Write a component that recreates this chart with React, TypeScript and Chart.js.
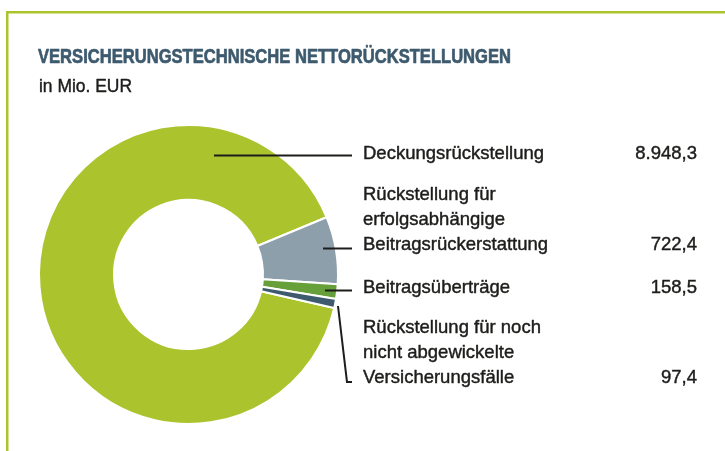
import React, { useEffect, useRef } from "react";
import { Chart, registerables } from "chart.js";

Chart.register(...registerables);

const TITLE = "VERSICHERUNGSTECHNISCHE NETTORÜCKSTELLUNGEN";
const SUBTITLE = "in Mio. EUR";

// categories (legend order), each as its printed lines
const categories: string[][] = [
  ["Deckungsrückstellung"],
  ["Rückstellung für", "erfolgsabhängige", "Beitragsrückerstattung"],
  ["Beitragsüberträge"],
  ["Rückstellung für noch", "nicht abgewickelte", "Versicherungsfälle"],
];
const values: number[] = [8948.3, 722.4, 158.5, 97.4];
const valueLabels: string[] = ["8.948,3", "722,4", "158,5", "97,4"];

// styles / layout (kept apart from the data)
const sliceColors = ["#abc42e", "#8e9fac", "#67a03a", "#3d5a6e"];
const frameColor = "#abc42e";
const titleColor = "#3d5a6e";
const textColor = "#1d1d1b";
const FONT_FAMILY = '"Liberation Sans Narrow", "Liberation Sans", Arial, sans-serif';

// label text baselines (last line) and leader line paths
const labelLayout = [
  { baseline: 159, path: [[214, 155.5], [352, 155.5]] },
  { baseline: 250, path: [[323, 248.5], [352, 248.5]] },
  { baseline: 292.5, path: [[325, 290.5], [352, 290.5]] },
  { baseline: 383, path: [[338, 306], [347, 382], [352, 382]] },
];

function fitText(
  ctx: CanvasRenderingContext2D,
  text: string,
  x: number,
  y: number,
  font: string,
  color: string,
  scale: number,
  align: CanvasTextAlign,
  weight: number
) {
  ctx.save();
  ctx.font = font;
  ctx.fillStyle = color;
  ctx.strokeStyle = color;
  ctx.textBaseline = "alphabetic";
  ctx.textAlign = align;
  ctx.translate(x, y);
  ctx.scale(scale, 1);
  ctx.fillText(text, 0, 0);
  if (weight > 0) {
    ctx.lineWidth = weight;
    ctx.lineJoin = "round";
    ctx.strokeText(text, 0, 0);
  }
  ctx.restore();
}

const overlayPlugin = {
  id: "overlay",
  beforeDraw(chart: any) {
    const ctx: CanvasRenderingContext2D = chart.ctx;
    ctx.save();
    ctx.fillStyle = "#ffffff";
    ctx.fillRect(0, 0, chart.width, chart.height);
    ctx.strokeStyle = frameColor;
    ctx.lineWidth = 2.5;
    ctx.strokeRect(7.25, 12.25, chart.width + 50, chart.height + 50);
    ctx.restore();
  },
  afterDraw(chart: any) {
    const ctx: CanvasRenderingContext2D = chart.ctx;
    ctx.save();
    // title
    const titleFont = `bold 21px ${FONT_FAMILY}`;
    ctx.font = titleFont;
    const tScale = 473 / ctx.measureText(TITLE).width;
    fitText(ctx, TITLE, 38, 63, titleFont, titleColor, tScale, "left", 0.7);
    // subtitle
    const labelFont = `19px ${FONT_FAMILY}`;
    ctx.font = labelFont;
    const sScale = 93 / ctx.measureText(SUBTITLE).width;
    fitText(ctx, SUBTITLE, 39, 92, labelFont, textColor, sScale, "left", 0.45);
    const lScale = 181 / ctx.measureText(categories[0][0]).width;

    categories.forEach((lines, i) => {
      const lay = labelLayout[i];
      // leader line
      ctx.save();
      ctx.strokeStyle = textColor;
      ctx.lineWidth = 2;
      ctx.lineJoin = "miter";
      ctx.beginPath();
      lay.path.forEach(([px, py], k) => (k === 0 ? ctx.moveTo(px, py) : ctx.lineTo(px, py)));
      ctx.stroke();
      ctx.restore();
      // text lines
      const n = lines.length;
      lines.forEach((line, k) => {
        const y = lay.baseline - (n - 1 - k) * 25;
        fitText(ctx, line, 363, y, labelFont, textColor, lScale, "left", 0.45);
      });
      fitText(ctx, valueLabels[i], 697, lay.baseline, labelFont, textColor, lScale, "right", 0.45);
    });
    ctx.restore();
  },
};

export default function App() {
  const canvasRef = useRef<HTMLCanvasElement | null>(null);

  useEffect(() => {
    const canvas = canvasRef.current;
    if (!canvas) return;
    const total = values.reduce((a, b) => a + b, 0);
    // gray slice starts at 22.5° above the right horizontal
    const rotation = 67.5 - (360 * values[0]) / total;
    const chart = new Chart(canvas, {
      type: "doughnut",
      data: {
        labels: categories.map((c) => c.join(" ")),
        datasets: [
          {
            data: values,
            backgroundColor: sliceColors,
            borderColor: "#ffffff",
            borderWidth: 2,
          },
        ],
      },
      options: {
        animation: false,
        responsive: false,
        events: [],
        rotation,
        cutout: 73.5,
        radius: 149.5,
        layout: { padding: { left: 40, right: 388, top: 126, bottom: 28 } },
        plugins: {
          legend: { display: false },
          tooltip: { enabled: false },
          title: { display: false },
        },
      } as any,
      plugins: [overlayPlugin],
    });
    return () => chart.destroy();
  }, []);

  return (
    <div style={{ position: "absolute", left: 0, top: 0, width: 725, height: 451 }}>
      <canvas ref={canvasRef} width={725} height={451} style={{ display: "block", width: 725, height: 451 }} />
    </div>
  );
}
